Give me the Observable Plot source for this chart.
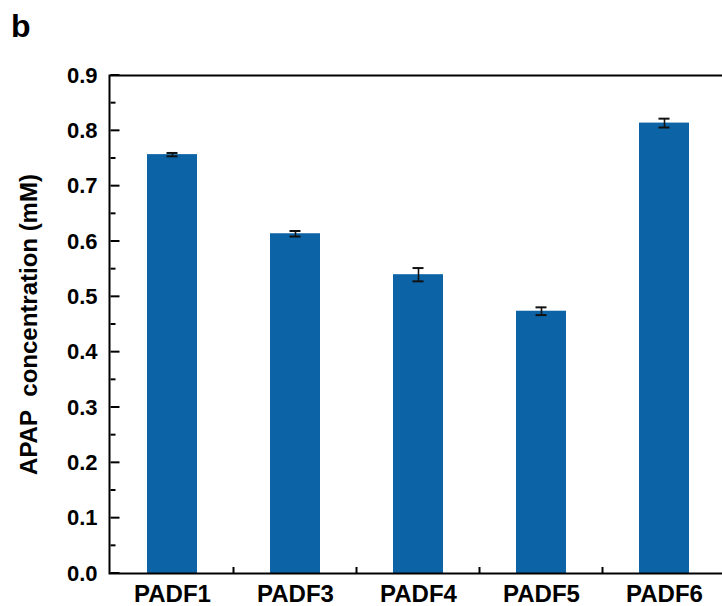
<!DOCTYPE html>
<html>
<head>
<meta charset="utf-8">
<script src="https://cdn.jsdelivr.net/npm/d3@7"></script>
<script src="https://cdn.jsdelivr.net/npm/@observablehq/plot@0.6"></script>
<style>
  html, body { margin: 0; padding: 0; background: #fff; overflow: hidden; }
  #wrap { position: relative; width: 722px; height: 606px; }
  #panel { position: absolute; left: 11px; top: 8px; font: bold 32px "Liberation Sans", Arial, sans-serif; color: #000; }
  #chart { position: absolute; left: 0; top: 0; }
  #chart g[aria-label="y-axis tick label"] { font-size: 22px; font-weight: bold; }
  #chart g[aria-label="y-axis tick label"] text { font-size: 22px; }
  #chart g[aria-label="x-axis tick label"] { font-size: 24px; font-weight: bold; }
  #chart g[aria-label="x-axis tick label"] text { font-size: 24px; }
</style>
</head>
<body>
<div id="wrap">
  <div id="chart"></div>
  <div id="panel">b</div>
</div>
<script>
const categories = ["PADF1", "PADF3", "PADF4", "PADF5", "PADF6"];
const values = [0.757, 0.614, 0.540, 0.474, 0.814];
const errors = [0.003, 0.005, 0.012, 0.007, 0.008];
const yMajorTicks = [0, 0.1, 0.2, 0.3, 0.4, 0.5, 0.6, 0.7, 0.8, 0.9];
const yMinorTicks = [0.05, 0.15, 0.25, 0.35, 0.45, 0.55, 0.65, 0.75, 0.85];
const yTitle = "APAP\u00a0 concentration (mM)";

const data = categories.map((c, i) => ({cat: c, value: values[i], lo: values[i] - errors[i], hi: values[i] + errors[i]}));

function tickMarks(index, scales) {
  const x = scales.x, y = scales.y;
  const g = d3.create("svg:g").attr("stroke", "#000").attr("stroke-width", 2);
  const left = x(categories[0]);
  const step = x(categories[1]) - x(categories[0]);
  const bw = x.bandwidth ? x.bandwidth() : step * 0.405;
  const axisX = left - (step - bw) / 2;
  const y0 = y(0);
  for (const v of yMajorTicks) g.append("line").attr("x1", axisX).attr("x2", axisX + 9).attr("y1", y(v)).attr("y2", y(v));
  for (const v of yMinorTicks) g.append("line").attr("x1", axisX).attr("x2", axisX + 5).attr("y1", y(v)).attr("y2", y(v));
  for (let i = 0; i < categories.length - 1; i++) {
    const bx = (x(categories[i]) + bw + x(categories[i + 1])) / 2;
    g.append("line").attr("x1", bx).attr("x2", bx).attr("y1", y0).attr("y2", y0 - 6);
  }
  return g.node();
}

const plot = Plot.plot({
  width: 722,
  height: 606,
  marginLeft: 109,
  marginRight: -4,
  marginTop: 75,
  marginBottom: 33,
  style: {fontFamily: "'Liberation Sans', Arial, sans-serif", fontWeight: "bold", color: "#000", background: "#fff"},
  x: {domain: categories, paddingInner: 0.595, paddingOuter: 0.2975, label: null},
  y: {domain: [0, 0.9], label: null},
  marks: [
    Plot.barY(data, {x: "cat", y: "value", fill: "#0c63a6"}),
    Plot.ruleX(data, {x: "cat", y1: "lo", y2: "hi", stroke: "#111", strokeWidth: 1.6}),
    Plot.tickY(data, {x: "cat", y: "lo", stroke: "#111", strokeWidth: 2, insetLeft: 19.5, insetRight: 19.5}),
    Plot.tickY(data, {x: "cat", y: "hi", stroke: "#111", strokeWidth: 2, insetLeft: 19.5, insetRight: 19.5}),
    Plot.axisY(yMajorTicks, {tickSize: 0, tickPadding: 12, fontSize: 22, fontWeight: "bold", tickFormat: d3.format(".1f"), label: null}),
    Plot.axisX({tickSize: 0, tickPadding: 11, fontSize: 24, fontWeight: "bold", label: null}),
    Plot.text([yTitle], {frameAnchor: "left", dx: -80, rotate: -90, fontSize: 24, fontWeight: "bold", textAnchor: "middle", lineAnchor: "middle"}),
    tickMarks,
    Plot.frame({stroke: "#000", strokeWidth: 2})
  ]
});
document.getElementById("chart").appendChild(plot);
</script>
</body>
</html>
